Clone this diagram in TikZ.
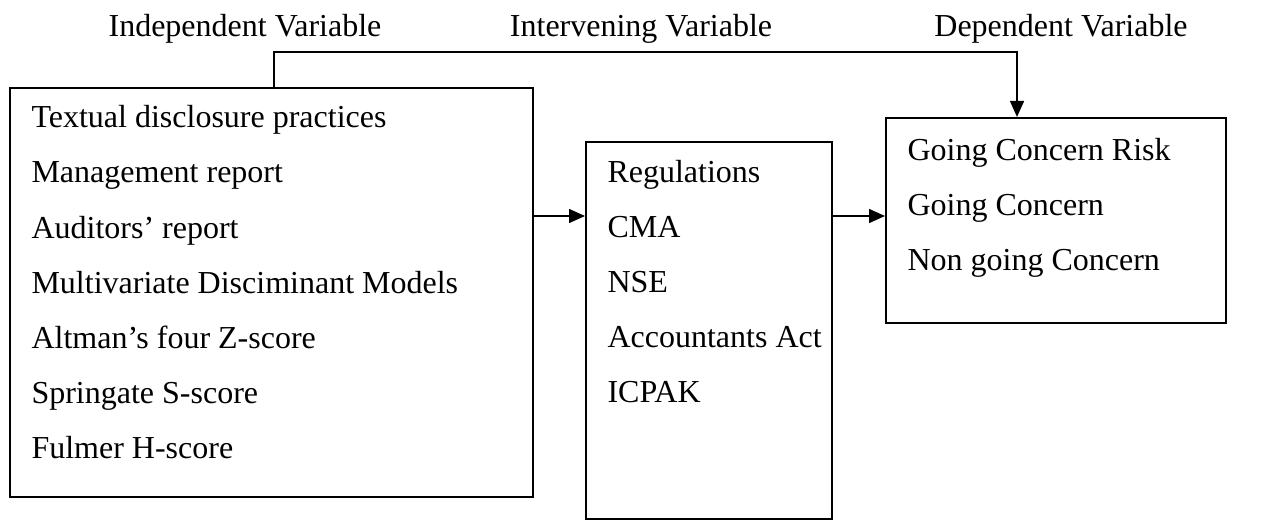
\documentclass[tikz,border=0pt]{standalone}
\usepackage{fontspec}
\setmainfont{Liberation Serif}
\usepackage{tikz}
\usetikzlibrary{arrows.meta}

\tikzset{
  box/.style={draw, line width=0.75pt, inner sep=0pt},
  txt/.style={anchor=base west, inner sep=0pt},
  head/.style={anchor=base, inner sep=0pt},
  arr/.style={line width=0.75pt, -{Triangle[length=6pt,width=5.2pt]}}
}

\begin{document}
\begin{tikzpicture}[x=0.375pt,y=0.375pt,yscale=-1,font=\fontsize{12}{14}\selectfont]
\useasboundingbox (0,0) rectangle (1282,520);

% Headings
\node[head] (hind) at (245,37) {Independent Variable};
\node[head] (hint) at (641,37) {Intervening Variable};
\node[head] (hdep) at (1061,37) {Dependent Variable};

%Shape: Rectangle (independent)
\node[box, minimum width=196.1pt, minimum height=153.4pt] (indep) at (271.5,292.5) {};
%Shape: Rectangle (intervening)
\node[box, minimum width=92.25pt, minimum height=141.4pt] (interv) at (709,330.5) {};
%Shape: Rectangle (dependent)
\node[box, minimum width=127.5pt, minimum height=76.9pt] (dep) at (1056,220.5) {};

% Text Node
\node[txt] (i1) at (31,128) {Textual disclosure practices};
\node[txt] (i2) at (31,183) {Management report};
\node[txt] (i3) at (31,238) {Auditors’ report};
\node[txt] (i4) at (31,293) {Multivariate Disciminant Models};
\node[txt] (i5) at (31,348) {Altman’s four Z-score};
\node[txt] (i6) at (31,403) {Springate S-score};
\node[txt] (i7) at (31,458) {Fulmer H-score};

% Text Node
\node[txt] (m1) at (607,182) {Regulations};
\node[txt] (m2) at (607,237) {CMA};
\node[txt] (m3) at (607,292) {NSE};
\node[txt] (m4) at (607,347) {Accountants Act};
\node[txt] (m5) at (607,402) {ICPAK};

% Text Node
\node[txt] (d1) at (907,160) {Going Concern Risk};
\node[txt] (d2) at (907,215) {Going Concern};
\node[txt] (d3) at (907,270) {Non going Concern};

%Straight Lines
\coordinate (ay) at (0,216);
\coordinate (tl) at (274,52);
\coordinate (tr) at (1017,52);
\draw[arr] (indep.east |- ay) -- (interv.west |- ay);
\draw[arr] (interv.east |- ay) -- (dep.west |- ay);
\draw[arr] (indep.north -| tl) -- (tl) -- (tr) -- (dep.north -| tr);

\end{tikzpicture}
\end{document}
